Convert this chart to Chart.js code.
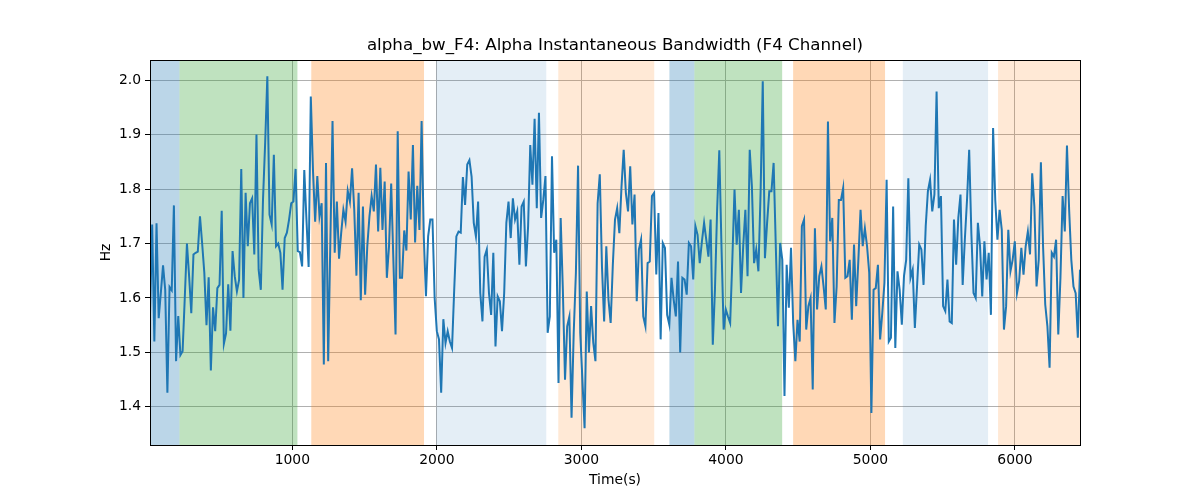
<!DOCTYPE html>
<html>
<head>
<meta charset="utf-8">
<script src="https://cdn.jsdelivr.net/npm/chart.js@4/dist/chart.umd.min.js"></script>
<style>
  html, body { margin: 0; padding: 0; background: #fff; }
  #wrap { width: 1200px; height: 500px; }
</style>
</head>
<body>
<div id="wrap"><canvas id="chart"></canvas></div>
<script>
// --- Data ---
const chartTitle = 'alpha_bw_F4: Alpha Instantaneous Bandwidth (F4 Channel)';
const tStart = 15;     // first sample (s)
const tEnd = 6450;     // last sample (s)

const bandwidthHz = [
  1.570, 1.735, 1.520, 1.737, 1.563, 1.610, 1.660, 1.615, 1.426, 1.620,
  1.614, 1.770, 1.484, 1.567, 1.495, 1.502, 1.600, 1.700, 1.640, 1.572,
  1.680, 1.683, 1.685, 1.750, 1.700, 1.646, 1.550, 1.638, 1.467, 1.583,
  1.539, 1.618, 1.624, 1.760, 1.516,
  1.535, 1.625, 1.540, 1.686, 1.640, 1.612, 1.633, 1.837, 1.600, 1.793,
  1.695, 1.774, 1.783, 1.680, 1.900, 1.652, 1.615, 1.780, 1.885, 2.007,
  1.753, 1.735, 1.863, 1.695, 1.700, 1.683, 1.615, 1.710, 1.720, 1.744,
  1.774, 1.777, 1.837, 1.686, 1.684, 1.658, 1.835,
  1.744, 1.657, 1.970, 1.835, 1.740, 1.824, 1.750, 1.774, 1.478, 1.848,
  1.484, 1.704, 1.925, 1.683, 1.777, 1.672, 1.720, 1.762, 1.740, 1.797,
  1.777, 1.838, 1.762, 1.641, 1.793, 1.596, 1.768, 1.606, 1.695, 1.750,
  1.787, 1.759, 1.845, 1.722, 1.839, 1.725,
  1.814, 1.637, 1.695, 1.810, 1.670, 1.533, 1.906, 1.637, 1.637, 1.724,
  1.687, 1.832, 1.744, 1.881, 1.702, 1.806, 1.725, 1.925, 1.713, 1.603,
  1.713, 1.744, 1.744, 1.600, 1.539, 1.524, 1.426, 1.561, 1.517, 1.539,
  1.520, 1.508, 1.615, 1.713, 1.722, 1.720,
  1.822, 1.771, 1.845, 1.853, 1.823, 1.738, 1.713, 1.777, 1.609, 1.557,
  1.676, 1.689, 1.609, 1.569, 1.683, 1.511, 1.603, 1.594, 1.539, 1.609,
  1.738, 1.777, 1.710, 1.783, 1.744, 1.759, 1.661, 1.768, 1.777, 1.658,
  1.731, 1.881, 1.808, 1.929, 1.765, 1.940,
  1.747, 1.780, 1.824, 1.536, 1.566, 1.860, 1.683, 1.707, 1.444, 1.747,
  1.615, 1.450, 1.548, 1.566, 1.380, 1.536, 1.646, 1.843, 1.536, 1.450,
  1.361, 1.612, 1.500, 1.585, 1.518, 1.484, 1.774, 1.827, 1.658, 1.557,
  1.695, 1.597, 1.554, 1.661, 1.744, 1.765,
  1.719, 1.805, 1.872, 1.793, 1.759, 1.842, 1.735, 1.790, 1.594, 1.689,
  1.707, 1.566, 1.548, 1.664, 1.667, 1.787, 1.793, 1.643, 1.756, 1.524,
  1.701, 1.692, 1.569, 1.551, 1.637, 1.597, 1.566, 1.667, 1.500, 1.637,
  1.634, 1.606, 1.701, 1.695, 1.634, 1.732,
  1.716, 1.664, 1.704, 1.738, 1.707, 1.676, 1.744, 1.514, 1.615, 1.762,
  1.871, 1.695, 1.542, 1.579, 1.566, 1.554, 1.670, 1.799, 1.698, 1.762,
  1.609, 1.695, 1.762, 1.640, 1.872, 1.805, 1.664, 1.689, 1.649, 1.793,
  1.998, 1.673, 1.738, 1.796, 1.796, 1.848,
  1.695, 1.548, 1.701, 1.670, 1.420, 1.661, 1.582, 1.692, 1.554, 1.484,
  1.560, 1.520, 1.732, 1.744, 1.542, 1.585, 1.600, 1.432, 1.728, 1.579,
  1.640, 1.658, 1.621, 1.579, 1.924, 1.704, 1.747, 1.554, 1.621, 1.780,
  1.780, 1.802, 1.637, 1.640, 1.670, 1.560,
  1.698, 1.585, 1.670, 1.762, 1.695, 1.728, 1.695, 1.646, 1.389, 1.615,
  1.618, 1.661, 1.524, 1.572, 1.628, 1.817, 1.520, 1.527, 1.768, 1.508,
  1.649, 1.615, 1.551, 1.640, 1.670, 1.820, 1.637, 1.652, 1.545, 1.621,
  1.698, 1.689, 1.624, 1.732, 1.796, 1.817,
  1.759, 1.790, 1.979, 1.765, 1.787, 1.585, 1.576, 1.634, 1.557, 1.554,
  1.744, 1.661, 1.747, 1.790, 1.624, 1.707, 1.780, 1.872, 1.719, 1.609,
  1.600, 1.738, 1.695, 1.603, 1.704, 1.634, 1.683, 1.569, 1.912, 1.780,
  1.707, 1.762, 1.725, 1.542, 1.585, 1.725,
  1.649, 1.670, 1.704, 1.609, 1.631, 1.692, 1.643, 1.695, 1.722, 1.680,
  1.829, 1.768, 1.621, 1.670, 1.849, 1.695, 1.588, 1.548, 1.472, 1.683,
  1.676, 1.707, 1.533, 1.637, 1.787, 1.722, 1.880, 1.762, 1.670, 1.621,
  1.609, 1.527, 1.652
];

// shaded stage segments (s)
const segStart = [15, 219, 1131, 1996, 2840, 3609, 3782, 4465, 5224, 5883];
const segEnd   = [219, 1035, 1911, 2757, 3504, 3782, 4389, 5101, 5814, 6450];
const segKind  = ['blue', 'green', 'orange', 'paleBlue', 'paleOrange',
                  'blue', 'green', 'orange', 'paleBlue', 'paleOrange'];

const xTicks = [1000, 2000, 3000, 4000, 5000, 6000];
const yTicks = [1.4, 1.5, 1.6, 1.7, 1.8, 1.9, 2.0];

// --- styling ---
const bandColors = {
  blue: 'rgba(31,119,180,0.3)',
  green: 'rgba(44,160,44,0.3)',
  orange: 'rgba(255,127,14,0.3)',
  paleBlue: 'rgba(31,119,180,0.12)',
  paleOrange: 'rgba(255,127,14,0.17)'
};
const FONT = '"DejaVu Sans", "Liberation Sans", sans-serif';

const step = (tEnd - tStart) / (bandwidthHz.length - 1);
const points = bandwidthHz.map((v, i) => ({ x: tStart + i * step, y: v }));

const bandsPlugin = {
  id: 'bands',
  beforeDatasetsDraw(chart) {
    const { ctx, chartArea: a, scales: { x } } = chart;
    ctx.save();
    ctx.beginPath();
    ctx.rect(a.left, a.top, a.right - a.left, a.bottom - a.top);
    ctx.clip();
    segStart.forEach((s, i) => {
      const x0 = x.getPixelForValue(s);
      const x1 = x.getPixelForValue(segEnd[i]);
      ctx.fillStyle = bandColors[segKind[i]];
      ctx.fillRect(x0, a.top, x1 - x0, a.bottom - a.top);
    });
    ctx.restore();
  },
  afterDraw(chart) {
    const { ctx, chartArea: a } = chart;
    ctx.save();
    // axes frame
    ctx.strokeStyle = '#000';
    ctx.lineWidth = 1;
    ctx.strokeRect(Math.round(a.left) + 0.5, Math.round(a.top) + 0.5,
                   Math.round(a.right - a.left), Math.round(a.bottom - a.top));
    // title
    ctx.fillStyle = '#000';
    ctx.font = '16.7px ' + FONT;
    ctx.textAlign = 'center';
    ctx.textBaseline = 'bottom';
    ctx.fillText(chartTitle, (a.left + a.right) / 2, a.top - 6);
    ctx.restore();
  }
};

const tickFont = { family: FONT, size: 13.9 };

new Chart(document.getElementById('chart'), {
  type: 'line',
  data: {
    datasets: [{
      data: points,
      borderColor: '#1f77b4',
      borderWidth: 2,
      pointRadius: 0,
      tension: 0,
      fill: false
    }]
  },
  options: {
    responsive: true,
    maintainAspectRatio: false,
    animation: false,
    devicePixelRatio: 1,
    layout: { padding: { left: 94, right: 120, top: 60, bottom: 7 } },
    plugins: {
      legend: { display: false },
      tooltip: { enabled: false },
      title: { display: false }
    },
    scales: {
      x: {
        type: 'linear',
        min: tStart,
        max: tEnd,
        afterBuildTicks: s => { s.ticks = xTicks.map(v => ({ value: v })); },
        afterFit: s => { s.height = 48; },
        grid: { color: '#b0b0b0', lineWidth: 1, tickLength: 5, tickColor: '#000' },
        border: { display: false },
        ticks: {
          color: '#000', font: tickFont, padding: 2, maxRotation: 0,
          callback: v => String(v)
        },
        title: { display: true, text: 'Time(s)', color: '#000', font: tickFont, padding: { top: 4, bottom: 4 } }
      },
      y: {
        type: 'linear',
        min: 1.330,
        max: 2.037,
        afterBuildTicks: s => { s.ticks = yTicks.map(v => ({ value: v })); },
        afterFit: s => { s.width = 56; },
        grid: { color: '#b0b0b0', lineWidth: 1, tickLength: 5, tickColor: '#000' },
        border: { display: false },
        ticks: {
          color: '#000', font: tickFont, padding: 4,
          callback: v => v.toFixed(1)
        },
        title: { display: true, text: 'Hz', color: '#000', font: tickFont, padding: { top: 4, bottom: 4 } }
      }
    }
  },
  plugins: [bandsPlugin]
});
</script>
</body>
</html>
